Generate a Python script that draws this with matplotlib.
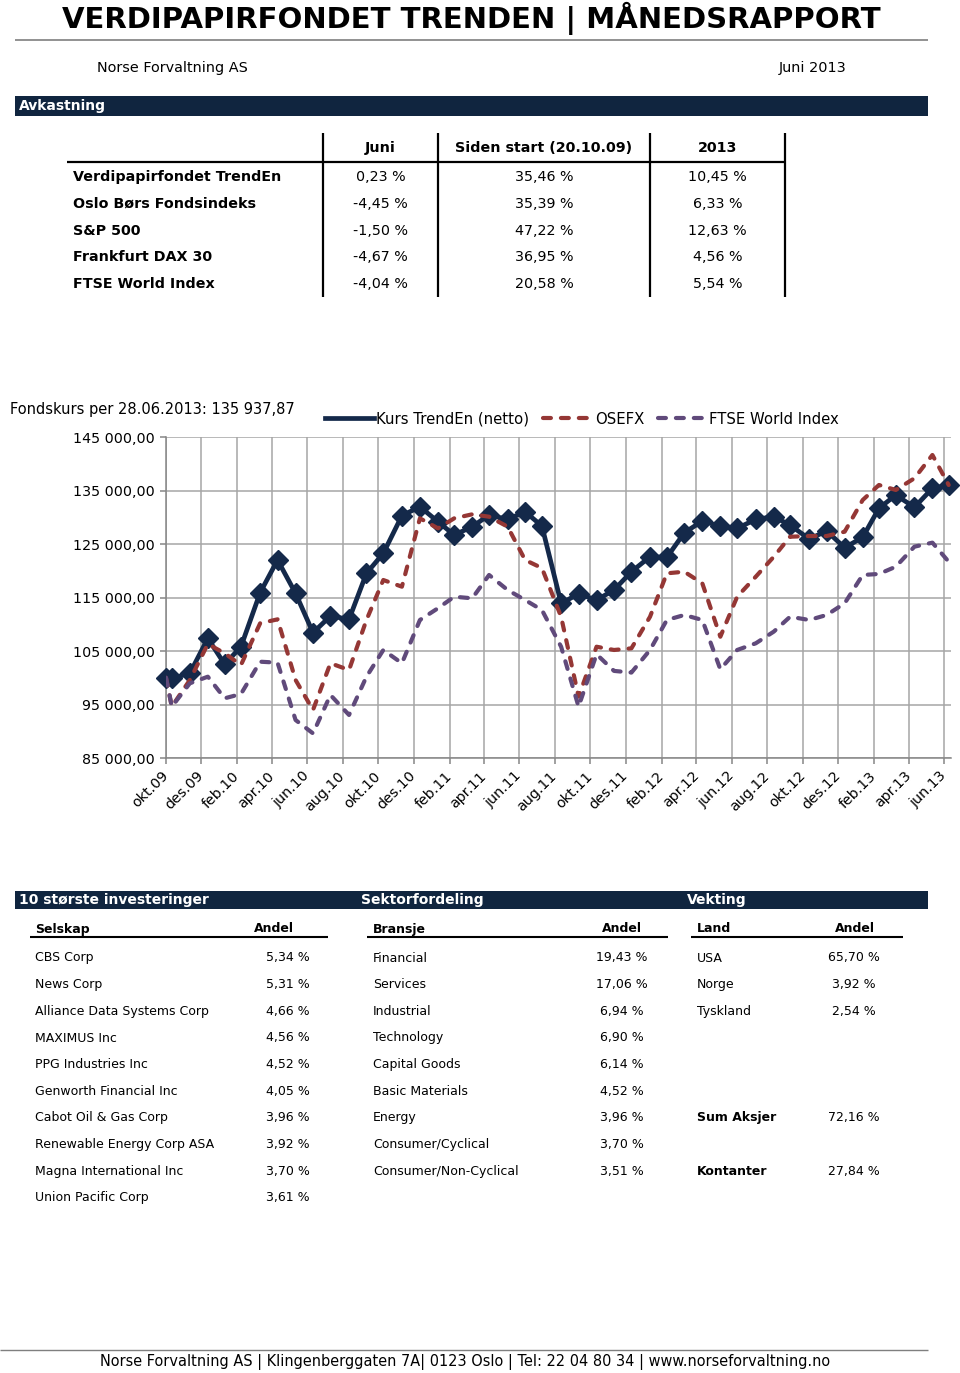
import matplotlib
matplotlib.use("Agg")
import matplotlib.pyplot as plt
from matplotlib.lines import Line2D
from matplotlib.patches import Rectangle
from matplotlib.ticker import FuncFormatter
import pandas as pd

plt.rcParams['font.family'] = ['DejaVu Sans']

# ---------------- data ----------------
start_date = "2009-10-20"
dates = [pd.Timestamp(start_date)] + list(
    pd.date_range("2009-10-01", "2013-06-30", freq=pd.offsets.BMonthEnd()))

trenden = [100000, 99900, 100830, 107370, 102520, 105800, 115900, 122010, 115780, 108420,
           111540, 110920, 119520, 123260, 130290, 131970, 129170, 126680, 128240, 130420,
           129610, 131030, 128360, 113920, 115660, 114530, 116400, 119820, 122620, 122500,
           127100, 129300, 128360, 127930, 129610, 130100, 128550, 125930, 127430, 124310,
           126250, 131670, 134160, 131860, 135410, 135938]
osefx = [100000, 94600, 99580, 106310, 104570, 102380, 110180, 110920, 99580, 93970,
         102710, 101450, 110800, 118270, 117020, 129800, 127930, 129800, 130550, 130100,
         128240, 122010, 120500, 111400, 96460, 105800, 105190, 105500, 111400, 119520,
         119820, 117650, 107670, 115150, 118890, 122620, 126360, 126490, 126490, 127300,
         133220, 136030, 135100, 137280, 141640, 136030]
ftse = [100000, 94600, 98960, 100200, 96160, 96960, 103000, 102820, 92100, 89600,
        96780, 93040, 100200, 105190, 102710, 110800, 112990, 115150, 114850, 119210,
        116400, 114530, 112660, 105800, 94600, 104390, 101280, 100970, 105190, 110800,
        111730, 110800, 101590, 105190, 106440, 108620, 111400, 110800, 111730, 113920,
        119210, 119400, 120760, 124500, 125250, 121690]
series_names = ["Kurs TrendEn (netto)", "OSEFX", "FTSE World Index"]

tick_dates = pd.date_range(start_date, periods=23, freq=pd.DateOffset(months=2))
tick_labels = ["okt.09", "des.09", "feb.10", "apr.10", "jun.10", "aug.10", "okt.10",
               "des.10", "feb.11", "apr.11", "jun.11", "aug.11", "okt.11", "des.11",
               "feb.12", "apr.12", "jun.12", "aug.12", "okt.12", "des.12", "feb.13",
               "apr.13", "jun.13"]
y_ticks = [85000, 95000, 105000, 115000, 125000, 135000, 145000]

perf_cols = ["Juni", "Siden start (20.10.09)", "2013"]
perf_names = ["Verdipapirfondet TrendEn", "Oslo Børs Fondsindeks", "S&P 500",
              "Frankfurt DAX 30", "FTSE World Index"]
perf_juni = ["0,23 %", "-4,45 %", "-1,50 %", "-4,67 %", "-4,04 %"]
perf_start = ["35,46 %", "35,39 %", "47,22 %", "36,95 %", "20,58 %"]
perf_2013 = ["10,45 %", "6,33 %", "12,63 %", "4,56 %", "5,54 %"]

companies = ["CBS Corp", "News Corp", "Alliance Data Systems Corp", "MAXIMUS Inc",
             "PPG Industries Inc", "Genworth Financial Inc", "Cabot Oil & Gas Corp",
             "Renewable Energy Corp ASA", "Magna International Inc", "Union Pacific Corp"]
company_share = ["5,34 %", "5,31 %", "4,66 %", "4,56 %", "4,52 %", "4,05 %", "3,96 %",
                 "3,92 %", "3,70 %", "3,61 %"]
sectors = ["Financial", "Services", "Industrial", "Technology", "Capital Goods",
           "Basic Materials", "Energy", "Consumer/Cyclical", "Consumer/Non-Cyclical"]
sector_share = ["19,43 %", "17,06 %", "6,94 %", "6,90 %", "6,14 %", "4,52 %", "3,96 %",
                "3,70 %", "3,51 %"]
countries = ["USA", "Norge", "Tyskland"]
country_share = ["65,70 %", "3,92 %", "2,54 %"]
sum_labels = ["Sum Aksjer", "Kontanter"]
sum_values = ["72,16 %", "27,84 %"]

# ---------------- styles ----------------
NAVY = "#14294A"
BAR = "#10253F"
RED = "#953735"
PURPLE = "#604A7B"
GRID = "#A6A6A6"
FS = 10.3

W, H = 960, 1373
fig = plt.figure(figsize=(W / 100, H / 100), dpi=100)


def fx(x):
    return x / W


def fy(y):
    return 1 - y / H


def txt(x, y, s, **kw):
    kw.setdefault("fontsize", FS)
    kw.setdefault("va", "center")
    fig.text(fx(x), fy(y), s, **kw)


def hline(x0, x1, y, lw=1.5, color="black"):
    fig.add_artist(Line2D([fx(x0), fx(x1)], [fy(y), fy(y)], transform=fig.transFigure,
                          color=color, lw=lw, solid_capstyle="butt"))


def vline(x, y0, y1, lw=1.5, color="black"):
    fig.add_artist(Line2D([fx(x), fx(x)], [fy(y0), fy(y1)], transform=fig.transFigure,
                          color=color, lw=lw, solid_capstyle="butt"))


def bar(y0, y1):
    fig.add_artist(Rectangle((fx(15), fy(y1)), fx(928) - fx(15), fy(y0) - fy(y1),
                             transform=fig.transFigure, facecolor=BAR, edgecolor="none"))


# ---------------- header ----------------
txt(471, 18, "VERDIPAPIRFONDET TRENDEN | MÅNEDSRAPPORT", fontsize=21,
    fontweight="bold", ha="center")
hline(15, 928, 40, lw=1.2, color="#7F7F7F")
txt(97, 68, "Norse Forvaltning AS", fontsize=10.4)
txt(847, 68, "Juni 2013", ha="right", fontsize=10.4)

bar(96, 116)
txt(19, 106, "Avkastning", color="white", fontweight="bold", fontsize=10)

# performance table
col_centers = [380.5, 544, 717.5]
for c, s in zip(col_centers, perf_cols):
    txt(c, 148, s, ha="center", fontweight="bold")
for xv in [323, 438, 650, 785]:
    vline(xv, 133, 297, lw=1.6)
hline(67, 785, 162, lw=1.6)
row_y = [177, 204, 231, 257, 284]
for i, y in enumerate(row_y):
    txt(73, y, perf_names[i], fontweight="bold")
    txt(col_centers[0], y, perf_juni[i], ha="center")
    txt(col_centers[1], y, perf_start[i], ha="center")
    txt(col_centers[2], y, perf_2013[i], ha="center")

# ---------------- chart ----------------
txt(10, 409, "Fondskurs per 28.06.2013: 135 937,87", fontsize=10.55)

ax = fig.add_axes([fx(166), fy(758), fx(951) - fx(166), (758 - 437) / H])
ax.plot(dates, trenden, color=NAVY, lw=3.4, marker="D", ms=10.5, zorder=3, clip_on=False)
ax.plot(dates, osefx, color=RED, lw=3, ls=(0, (1.9, 2.4)), dash_capstyle="round", zorder=4)
ax.plot(dates, ftse, color=PURPLE, lw=3, ls=(0, (1.9, 2.4)), dash_capstyle="round", zorder=5)

ax.set_xlim(pd.Timestamp(start_date), pd.Timestamp("2013-07-02"))
ax.set_ylim(85000, 145000)
ax.set_yticks(y_ticks)
ax.yaxis.set_major_formatter(FuncFormatter(
    lambda v, p: f"{v:,.2f}".replace(",", " ").replace(".", ",")))
ax.set_xticks(tick_dates)
ax.set_xticklabels(tick_labels, rotation=45, ha="right", va="center",
                   rotation_mode="anchor")
ax.grid(True, color=GRID, lw=1.1)
ax.set_axisbelow(True)
for side in ["top", "right"]:
    ax.spines[side].set_visible(False)
for side in ["left", "bottom"]:
    ax.spines[side].set_color("#868686")
    ax.spines[side].set_linewidth(1.1)
ax.tick_params(axis="both", direction="out", length=4.3, width=1.1, color="#868686",
               labelsize=FS)
ax.tick_params(axis="x", pad=7)
ax.tick_params(axis="y", pad=4)

handles = [Line2D([], [], color=NAVY, lw=3.4),
           Line2D([], [], color=RED, lw=3, ls=(0, (1.9, 2.4)), dash_capstyle="round"),
           Line2D([], [], color=PURPLE, lw=3, ls=(0, (1.9, 2.4)), dash_capstyle="round")]
fig.legend(handles, series_names, loc="center left", bbox_to_anchor=(fx(325), fy(419)),
           bbox_transform=fig.transFigure, ncol=3, frameon=False, fontsize=10.7,
           handlelength=3.3, handletextpad=0.15, columnspacing=0.95, borderpad=0,
           borderaxespad=0)

# ---------------- bottom tables ----------------
bar(891, 909)
BFS = 10
txt(19, 900, "10 største investeringer", color="white", fontweight="bold", fontsize=BFS)
txt(361.5, 900, "Sektorfordeling", color="white", fontweight="bold", fontsize=BFS)
txt(686.5, 900, "Vekting", color="white", fontweight="bold", fontsize=BFS)

TFS = 9
txt(35, 929, "Selskap", fontweight="bold", fontsize=TFS)
txt(274, 929, "Andel", fontweight="bold", fontsize=TFS, ha="center")
txt(373, 929, "Bransje", fontweight="bold", fontsize=TFS)
txt(622, 929, "Andel", fontweight="bold", fontsize=TFS, ha="center")
txt(697, 929, "Land", fontweight="bold", fontsize=TFS)
txt(855, 929, "Andel", fontweight="bold", fontsize=TFS, ha="center")
hline(30, 328, 937, lw=1.5)
hline(367, 668, 937, lw=1.5)
hline(691, 903, 937, lw=1.5)

row0, step = 958, (1198 - 958) / 9
for i, (c, s) in enumerate(zip(companies, company_share)):
    y = row0 + i * step
    txt(35, y, c, fontsize=TFS)
    txt(287.5, y, s, fontsize=TFS, ha="center")
for i, (c, s) in enumerate(zip(sectors, sector_share)):
    y = row0 + i * step
    txt(373, y, c, fontsize=TFS)
    txt(622, y, s, fontsize=TFS, ha="center")
for i, (c, s) in enumerate(zip(countries, country_share)):
    y = row0 + i * step
    txt(697, y, c, fontsize=TFS)
    txt(853.5, y, s, fontsize=TFS, ha="center")
for i, (c, s) in zip([6, 8], zip(sum_labels, sum_values)):
    y = row0 + i * step
    txt(697, y, c, fontsize=TFS, fontweight="bold")
    txt(853.5, y, s, fontsize=TFS, ha="center")

# ---------------- footer ----------------
hline(0, 928, 1350, lw=1.0, color="#7F7F7F")
txt(465, 1362, "Norse Forvaltning AS | Klingenberggaten 7A| 0123 Oslo | Tel: 22 04 80 34 | "
               "www.norseforvaltning.no", ha="center", fontsize=10.45)

fig.savefig("out.png", dpi=100, facecolor="white")
